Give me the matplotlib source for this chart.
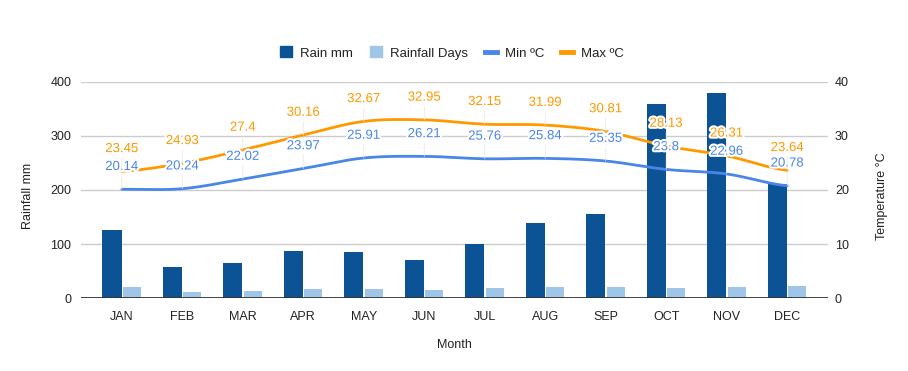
import numpy as np
import matplotlib
matplotlib.use("Agg")
import matplotlib.pyplot as plt
from matplotlib.lines import Line2D
from matplotlib.patches import Patch
import matplotlib.patheffects as pe

plt.rcParams['font.family'] = ['Liberation Sans', 'DejaVu Sans']

months = ["JAN", "FEB", "MAR", "APR", "MAY", "JUN", "JUL", "AUG", "SEP", "OCT", "NOV", "DEC"]
rain_mm = [126, 58, 65, 87, 85, 71, 100, 139, 156, 359, 380, 212]
rain_days = [21, 12, 14, 17, 17, 15, 19, 21, 21, 19, 21, 23]
min_c = [20.14, 20.24, 22.02, 23.97, 25.91, 26.21, 25.76, 25.84, 25.35, 23.8, 22.96, 20.78]
max_c = [23.45, 24.93, 27.4, 30.16, 32.67, 32.95, 32.15, 31.99, 30.81, 28.13, 26.31, 23.64]

C_RAIN = '#0b5394'
C_DAYS = '#9fc5e8'
C_MIN = '#4a86e8'
C_MAX = '#ff9900'
TXT = '#222222'


def smooth(xs, ys, n=24):
    xs = np.asarray(xs, float)
    ys = np.asarray(ys, float)
    m = np.empty_like(ys)
    m[1:-1] = (ys[2:] - ys[:-2]) / 2.0
    m[0] = (ys[1] - ys[0]) * 0.5
    m[-1] = (ys[-1] - ys[-2]) * 0.5
    ox, oy = [], []
    t = np.linspace(0, 1, n, endpoint=False)
    h00 = 2 * t**3 - 3 * t**2 + 1
    h10 = t**3 - 2 * t**2 + t
    h01 = -2 * t**3 + 3 * t**2
    h11 = t**3 - t**2
    for i in range(len(xs) - 1):
        ox.append(xs[i] + t * (xs[i + 1] - xs[i]))
        oy.append(h00 * ys[i] + h10 * m[i] + h01 * ys[i + 1] + h11 * m[i + 1])
    ox.append([xs[-1]])
    oy.append([ys[-1]])
    return np.concatenate(ox), np.concatenate(oy)


fig = plt.figure(figsize=(9.08, 3.71), dpi=100)
ax = fig.add_axes([81 / 908, 1 - 298.3 / 371, 747 / 908, (298.3 - 81.7) / 371])
x = np.arange(len(months))

ax.bar(x - 0.165, rain_mm, width=0.32, color=C_RAIN, zorder=2)
ax.bar(x + 0.165, rain_days, width=0.30, color=C_DAYS, zorder=2)
ax.set_xlim(-0.675, 11.675)
ax.set_ylim(0, 400)
ax.set_yticks([0, 100, 200, 300, 400])
ax.grid(axis='y', color='#cccccc', lw=1)
ax.set_axisbelow(True)
for s in ax.spines.values():
    s.set_visible(False)
ax.axhline(0, color='#333333', lw=1.3, zorder=4)
ax.set_xticks(x, months)
ax.tick_params(length=0, labelsize=9, colors=TXT)
ax.tick_params(axis='y', pad=7)
ax.tick_params(axis='x', pad=9)

ax2 = ax.twinx()
ax2.set_ylim(0, 40)
ax2.set_yticks([0, 10, 20, 30, 40])
ax2.tick_params(length=0, labelsize=9, colors=TXT, pad=5)
for s in ax2.spines.values():
    s.set_visible(False)

for vals, col in ((min_c, C_MIN), (max_c, C_MAX)):
    sx, sy = smooth(x, vals)
    ax2.plot(sx, sy, color=col, lw=2, zorder=3, solid_capstyle='round')

halo = [pe.withStroke(linewidth=3, foreground='white')]
for vals, col in ((min_c, C_MIN), (max_c, C_MAX)):
    for i, v in enumerate(vals):
        ax2.annotate(str(v), (x[i], v), xytext=(0, 16), textcoords='offset points',
                     ha='center', va='center', color=col, fontsize=9.5,
                     path_effects=halo, zorder=6,
                     arrowprops=dict(arrowstyle='-', color='#e6e6e6', lw=0.5,
                                     shrinkA=0, shrinkB=0, relpos=(0.5, 0.0)))

fig.text(28 / 908, 1 - 196 / 371, 'Rainfall mm', rotation=90, ha='center', va='center',
         fontsize=9, color=TXT)
fig.text(882 / 908, 1 - 196 / 371, 'Temperature °C', rotation=90, ha='center', va='center',
         fontsize=9, color=TXT)
fig.text(454 / 908, 1 - 345 / 371, 'Month', ha='center', va='center', fontsize=9, color=TXT)

handles = [Patch(color=C_RAIN), Patch(color=C_DAYS),
           Line2D([], [], color=C_MIN, lw=3.5), Line2D([], [], color=C_MAX, lw=3.5)]
labels = ['Rain mm', 'Rainfall Days', 'Min ºC', 'Max ºC']
fig.legend(handles, labels, loc='center', bbox_to_anchor=(452 / 908, 1 - 53 / 371), ncol=4,
           frameon=False, fontsize=9.5, handlelength=0.9, handleheight=0.9,
           handletextpad=0.6, columnspacing=1.3, labelcolor=TXT)

fig.savefig('out.png', dpi=100)
